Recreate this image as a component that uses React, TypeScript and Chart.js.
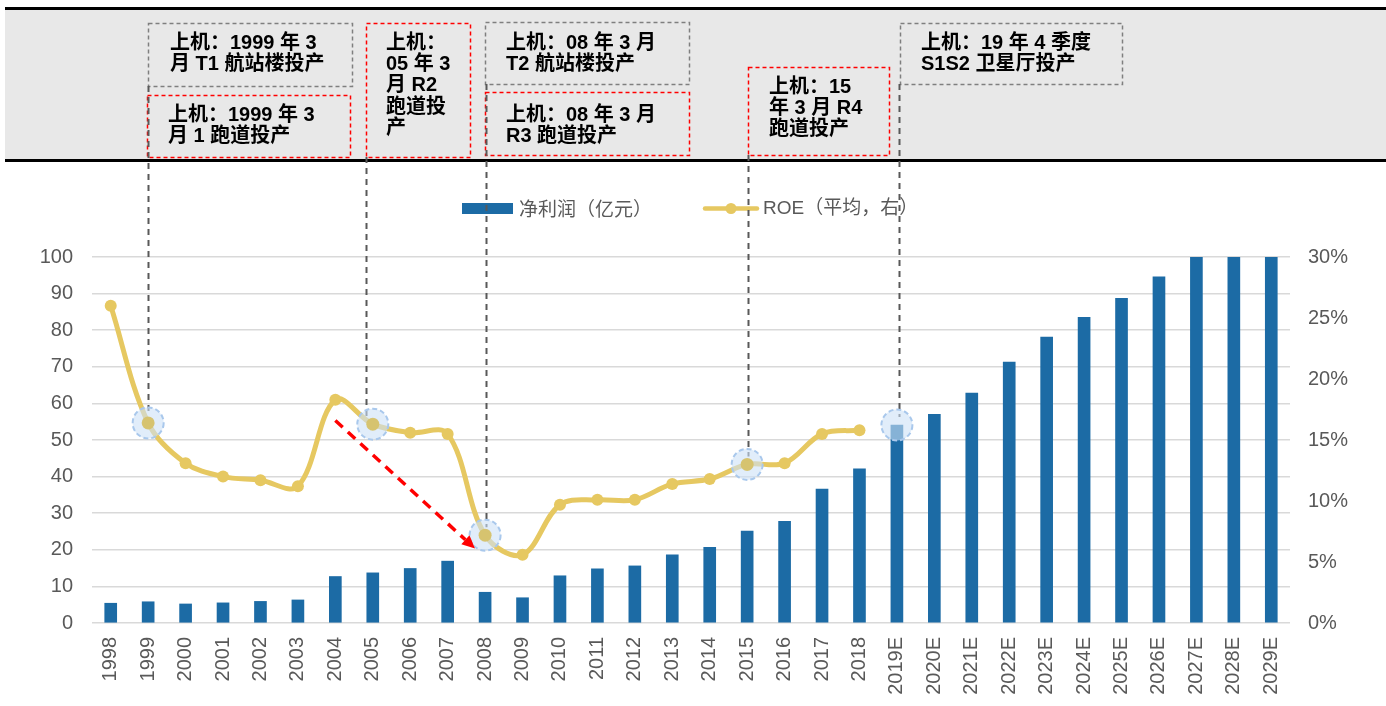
import React, { useEffect, useRef } from 'react';
import { Chart, registerables } from 'chart.js';

Chart.register(...registerables);

// ---------- data ----------
const categories = [
  '1998', '1999', '2000', '2001', '2002', '2003', '2004', '2005', '2006', '2007', '2008',
  '2009', '2010', '2011', '2012', '2013', '2014', '2015', '2016', '2017', '2018',
  '2019E', '2020E', '2021E', '2022E', '2023E', '2024E', '2025E', '2026E', '2027E', '2028E', '2029E',
];
const netProfit = [
  5.4, 5.8, 5.2, 5.5, 5.9, 6.3, 12.7, 13.7, 14.9, 16.9, 8.4,
  6.9, 12.9, 14.8, 15.6, 18.6, 20.7, 25.1, 27.8, 36.6, 42.1,
  54.1, 57.0, 62.8, 71.3, 78.1, 83.5, 88.7, 94.6, 100, 100, 100,
];
const roe = [
  26.0, 16.4, 13.1, 12.0, 11.7, 11.2, 18.3, 16.3, 15.6, 15.5, 7.2,
  5.6, 9.7, 10.1, 10.1, 11.4, 11.8, 13.0, 13.1, 15.5, 15.8,
  null, null, null, null, null, null, null, null, null, null, null,
];
const leftAxisMax = 100;
const leftAxisStep = 10;
const rightAxisMax = 30;
const rightAxisStep = 5;
const legendLabels = ['净利润（亿元）', 'ROE（平均，右）'];

// milestones: category index, which series the highlight sits on
const milestoneIdx = [1, 7, 10, 17, 21];
const milestoneOnBar = [false, false, false, false, true];
// red trend arrow: from (category index, ROE %) to (category index, ROE %)
const arrowFrom = [6, 16.6];
const arrowTo = [9.73, 6.1];

const annotationTexts = [
  ['上机：1999 年 3', '月 T1 航站楼投产'],
  ['上机：1999 年 3', '月 1 跑道投产'],
  ['上机：', '05 年 3', '月 R2', '跑道投', '产'],
  ['上机：08 年 3 月', 'T2 航站楼投产'],
  ['上机：08 年 3 月', 'R3 跑道投产'],
  ['上机：15', '年 3 月 R4', '跑道投产'],
  ['上机：19 年 4 季度', 'S1S2 卫星厅投产'],
];

// ---------- layout / style ----------
const BLUE = '#1C6BA5';
const YELLOW = '#E6C861';
const TXT = '#595959';
const FONT = '"Liberation Sans", Arial, "Noto Sans CJK SC", sans-serif';

const boxLayout = [
  { x: 148, y: 23, w: 204, h: 63, red: false, tx: 170, ty: 43 },
  { x: 147, y: 95, w: 203, h: 62, red: true, tx: 168, ty: 115 },
  { x: 366, y: 23, w: 104, h: 134, red: true, tx: 386, ty: 43 },
  { x: 485, y: 22, w: 204, h: 62, red: false, tx: 506, ty: 43 },
  { x: 485, y: 92, w: 204, h: 63, red: true, tx: 506, ty: 115 },
  { x: 748, y: 67, w: 141, h: 88, red: true, tx: 769, ty: 87 },
  { x: 900, y: 23, w: 222, h: 61, red: false, tx: 921, ty: 43 },
];
const milestoneLineX = [148, 366, 486, 748, 899];
const milestoneLineTop = [86, 157, 84, 155, 84];

const overlay = {
  id: 'overlay',
  afterDraw(chart: any) {
    const ctx = chart.ctx as CanvasRenderingContext2D;
    const xs = chart.scales.x;
    const ys = chart.scales.y;
    const y1 = chart.scales.y1;
    ctx.save();

    // band
    ctx.fillStyle = '#E8E8E8';
    ctx.fillRect(5, 9, 1381, 151);
    ctx.fillStyle = '#000';
    ctx.fillRect(5, 7, 1381, 3);
    ctx.fillRect(5, 159, 1381, 3);

    // boxes
    ctx.lineWidth = 1.5;
    ctx.setLineDash([4, 3]);
    boxLayout.forEach((b, i) => {
      ctx.strokeStyle = b.red ? '#FF0000' : '#7F7F7F';
      ctx.strokeRect(b.x + 0.5, b.y + 0.5, b.w, b.h);
      ctx.fillStyle = '#000';
      ctx.font = 'bold 20px ' + FONT;
      ctx.textBaseline = 'middle';
      ctx.textAlign = 'left';
      annotationTexts[i].forEach((t, k) => {
        ctx.fillText(t, b.tx, b.ty + k * 21.4);
      });
    });
    ctx.setLineDash([]);

    // legend
    ctx.fillStyle = BLUE;
    ctx.fillRect(462, 203, 51, 11);
    ctx.fillStyle = TXT;
    ctx.font = '19px "Noto Sans CJK SC", ' + FONT;
    ctx.textBaseline = 'middle';
    ctx.fillText(legendLabels[0], 519, 209);
    ctx.strokeStyle = YELLOW;
    ctx.lineWidth = 4.5;
    ctx.lineCap = 'round';
    ctx.beginPath();
    ctx.moveTo(705, 208.5);
    ctx.lineTo(757, 208.5);
    ctx.stroke();
    ctx.lineCap = 'butt';
    ctx.fillStyle = YELLOW;
    ctx.beginPath();
    ctx.arc(731, 208.5, 5.5, 0, Math.PI * 2);
    ctx.fill();
    ctx.fillStyle = TXT;
    ctx.font = '19px ' + FONT;
    ctx.fillText(legendLabels[1], 763, 209);

    // vertical dashed milestone lines + highlight circles
    milestoneIdx.forEach((idx, k) => {
      const cx = xs.getPixelForValue(idx);
      const lx = milestoneLineX[k] + 0.5;
      const py = milestoneOnBar[k]
        ? ys.getPixelForValue(netProfit[idx])
        : y1.getPixelForValue(roe[idx] as number);
      ctx.strokeStyle = '#595959';
      ctx.lineWidth = 2;
      ctx.setLineDash([6, 5]);
      ctx.beginPath();
      ctx.moveTo(lx, milestoneLineTop[k]);
      ctx.lineTo(lx, py - 8);
      ctx.stroke();

      ctx.setLineDash([5, 3]);
      ctx.fillStyle = 'rgba(205,225,247,0.6)';
      ctx.strokeStyle = '#A9C8EC';
      ctx.lineWidth = 2;
      ctx.beginPath();
      ctx.arc(cx, py, 15.5, 0, Math.PI * 2);
      ctx.fill();
      ctx.stroke();
      ctx.setLineDash([]);
      if (!milestoneOnBar[k]) {
        ctx.fillStyle = 'rgba(214,192,98,0.85)';
        ctx.beginPath();
        ctx.arc(cx, py, 6.5, 0, Math.PI * 2);
        ctx.fill();
      }
    });

    // red dashed arrow
    const ax0 = xs.getPixelForValue(arrowFrom[0]);
    const ay0 = y1.getPixelForValue(arrowFrom[1]);
    const ax1 = xs.getPixelForValue(arrowTo[0]);
    const ay1 = y1.getPixelForValue(arrowTo[1]);
    const ang = Math.atan2(ay1 - ay0, ax1 - ax0);
    const head = 13;
    const bx = ax1 - head * Math.cos(ang);
    const by = ay1 - head * Math.sin(ang);
    ctx.strokeStyle = '#FF0000';
    ctx.lineWidth = 3.5;
    ctx.setLineDash([10, 7]);
    ctx.beginPath();
    ctx.moveTo(ax0, ay0);
    ctx.lineTo(bx, by);
    ctx.stroke();
    ctx.setLineDash([]);
    ctx.fillStyle = '#FF0000';
    ctx.beginPath();
    ctx.moveTo(ax1, ay1);
    ctx.lineTo(bx + 6 * Math.sin(ang), by - 6 * Math.cos(ang));
    ctx.lineTo(bx - 6 * Math.sin(ang), by + 6 * Math.cos(ang));
    ctx.closePath();
    ctx.fill();

    ctx.restore();
  },
};

export default function App() {
  const ref = useRef<HTMLCanvasElement>(null);
  useEffect(() => {
    if (!ref.current) return;
    const chart = new Chart(ref.current, {
      type: 'bar',
      data: {
        labels: categories,
        datasets: [
          {
            type: 'line',
            label: legendLabels[1],
            data: roe,
            yAxisID: 'y1',
            borderColor: YELLOW,
            backgroundColor: YELLOW,
            borderWidth: 5,
            pointRadius: 6,
            pointHoverRadius: 6,
            pointBackgroundColor: YELLOW,
            pointBorderWidth: 0,
            tension: 0.35,
            spanGaps: false,
            order: 0,
          } as any,
          {
            type: 'bar',
            label: legendLabels[0],
            data: netProfit,
            yAxisID: 'y',
            backgroundColor: BLUE,
            barThickness: 12,
            order: 1,
          } as any,
        ],
      },
      options: {
        animation: false,
        responsive: false,
        devicePixelRatio: 1,
        layout: { padding: { top: 257, left: 0, right: 0, bottom: 0 } },
        plugins: { legend: { display: false }, tooltip: { enabled: false } },
        scales: {
          x: {
            grid: { display: false, drawTicks: false },
            border: { display: false },
            ticks: {
              color: TXT,
              font: { size: 20, family: FONT },
              minRotation: 90,
              maxRotation: 90,
              autoSkip: false,
              padding: 14,
            },
            afterFit(s: any) { s.height = 83; },
          },
          y: {
            position: 'left',
            min: 0,
            max: leftAxisMax,
            ticks: { stepSize: leftAxisStep, color: TXT, font: { size: 20, family: FONT }, padding: 19 },
            grid: { color: '#D9D9D9', lineWidth: 1.5, drawTicks: false },
            border: { display: false },
            afterFit(s: any) { s.width = 92; },
          },
          y1: {
            position: 'right',
            min: 0,
            max: rightAxisMax,
            ticks: {
              stepSize: rightAxisStep,
              color: TXT,
              font: { size: 20, family: FONT },
              padding: 18,
              callback: (v: any) => v + '%',
            },
            grid: { display: false, drawTicks: false },
            border: { display: false },
            afterFit(s: any) { s.width = 96; },
          },
        },
      } as any,
      plugins: [overlay],
    });
    return () => chart.destroy();
  }, []);
  return (
    <div style={{ position: 'fixed', left: 0, top: 0, width: 1386, height: 706, background: '#fff' }}>
      <canvas ref={ref} width={1386} height={706} style={{ display: 'block' }} />
    </div>
  );
}
